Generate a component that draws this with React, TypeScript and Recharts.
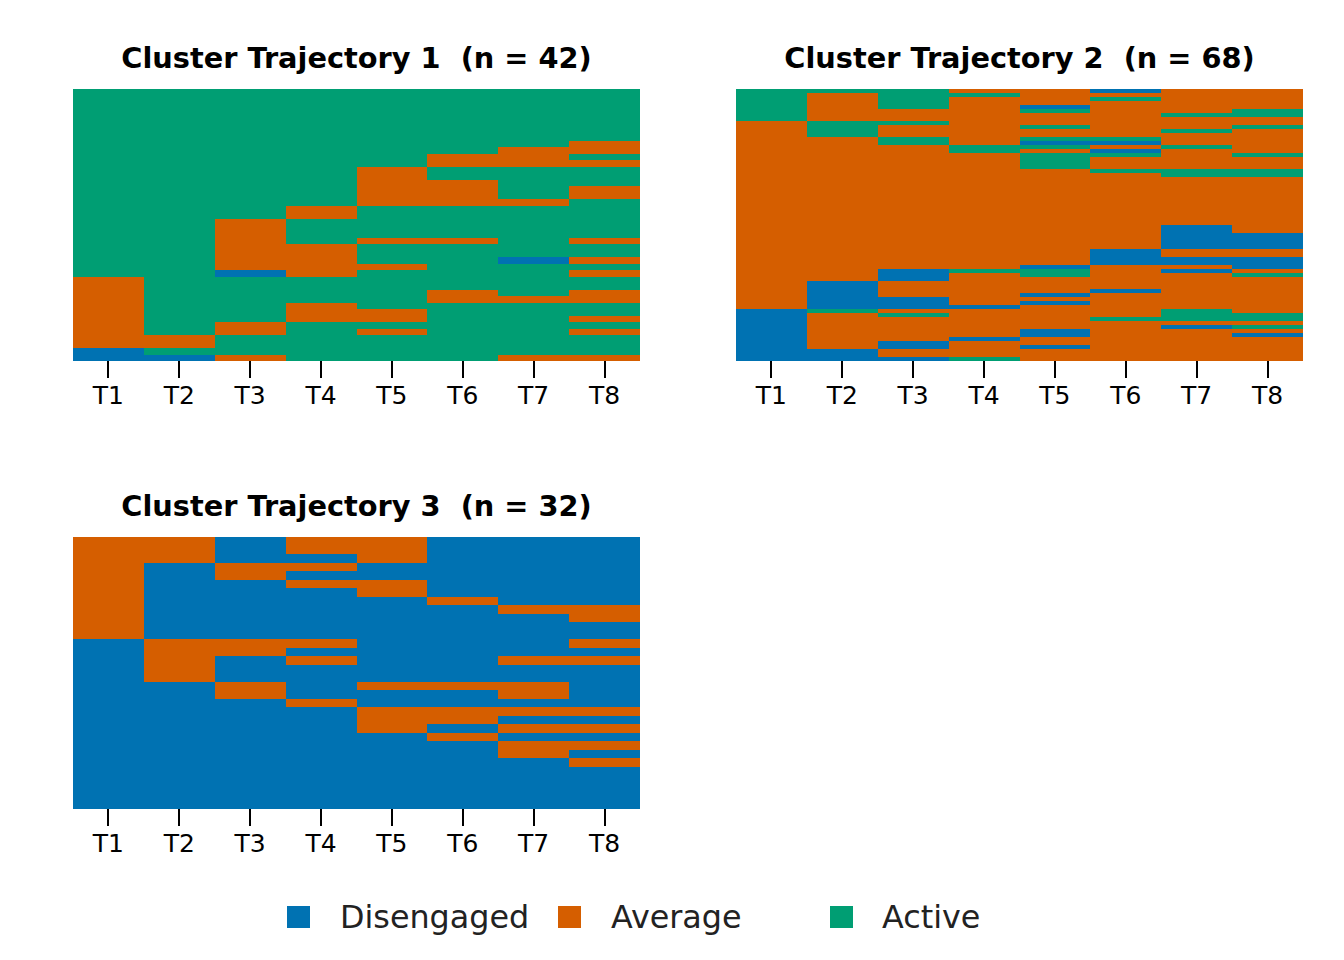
import React from 'react';
import { BarChart, Bar, XAxis, YAxis, Cell } from 'recharts';

const timeLabels = ['T1', 'T2', 'T3', 'T4', 'T5', 'T6', 'T7', 'T8'];
const stateCodes = ['D', 'M', 'A'];
const stateLabels = ['Disengaged', 'Average', 'Active'];
const stateColors = ['#0072B2', '#D55E00', '#009E73'];

// one string per sequence, top row first. D = Disengaged, M = Average, A = Active
const cluster1 = [
  'AAAAAAAA', 'AAAAAAAA', 'AAAAAAAA', 'AAAAAAAA', 'AAAAAAAA', 'AAAAAAAA', 'AAAAAAAA', 'AAAAAAAA',
  'AAAAAAAM', 'AAAAAAMM', 'AAAAAMMA', 'AAAAAMMM', 'AAAAMAAA', 'AAAAMAAA', 'AAAAMMAA', 'AAAAMMAM',
  'AAAAMMAM', 'AAAAMMMA', 'AAAMAAAA', 'AAAMAAAA', 'AAMAAAAA', 'AAMAAAAA', 'AAMAAAAA', 'AAMAMMAM',
  'AAMMAAAA', 'AAMMAAAA', 'AAMMAADM', 'AAMMMAAA', 'AADMAAAM', 'MAAAAAAA', 'MAAAAAAA', 'MAAAAMAM',
  'MAAAAMMM', 'MAAMAAAA', 'MAAMMAAA', 'MAAMMAAM', 'MAMAAAAA', 'MAMAMAAM', 'MMAAAAAA', 'MMAAAAAA',
  'DAAAAAAA', 'DDMAAAMM',
];

const cluster2 = [
  'AAAMMDMM', 'AMAAMMMM', 'AMAMMAMM', 'AMAMMMMM', 'AMAMDMMM', 'AMMMAMMA', 'AMMMMMAA', 'AMMMMMMM',
  'MAAMMMMM', 'MAMMAMMA', 'MAMMMMAM', 'MAMMMMMM', 'MMAMAAMM', 'MMAMDDMM', 'MMMAAMAM', 'MMMAMDMM',
  'MMMMAAMA', 'MMMMAMMM', 'MMMMAMMM', 'MMMMAMMM', 'MMMMMAAA', 'MMMMMMAA', 'MMMMMMMM', 'MMMMMMMM',
  'MMMMMMMM', 'MMMMMMMM', 'MMMMMMMM', 'MMMMMMMM', 'MMMMMMMM', 'MMMMMMMM', 'MMMMMMMM', 'MMMMMMMM',
  'MMMMMMMM', 'MMMMMMMM', 'MMMMMMDM', 'MMMMMMDM', 'MMMMMMDD', 'MMMMMMDD', 'MMMMMMDD', 'MMMMMMDD',
  'MMMMMDMM', 'MMMMMDMM', 'MMMMMDDD', 'MMMMMDDD', 'MMMMDMMD', 'MMDAAMDM', 'MMDMAMMA', 'MMDMMMMM',
  'MDMMMMMM', 'MDMMMMMM', 'MDMMMDMM', 'MDMMDMMM', 'MDDMMMMM', 'MDDMDMMM', 'MDDDMMMM', 'DAMMMMAM',
  'DMAMMMAA', 'DMMMMAAA', 'DMMMMMMM', 'DMMMMMDA', 'DMMMDMMM', 'DMMMDMMD', 'DMMDMMMM', 'DMDMMMMM',
  'DMDMDMMM', 'DDMMMMMM', 'DDMMMMMM', 'DDDAMMMM',
];

const cluster3 = [
  'MMDMMDDD', 'MMDMMDDD', 'MMDDMDDD', 'MDMMDDDD', 'MDMDDDDD', 'MDDMMDDD', 'MDDDMDDD', 'MDDDDMDD',
  'MDDDDDMM', 'MDDDDDDM', 'MDDDDDDD', 'MDDDDDDD', 'DMMMDDDM', 'DMMDDDDD', 'DMDMDDMM', 'DMDDDDDD',
  'DMDDDDDD', 'DDMDMMMD', 'DDMDDDMD', 'DDDMDDDD', 'DDDDMMMM', 'DDDDMMDD', 'DDDDMDMM', 'DDDDDMDD',
  'DDDDDDMM', 'DDDDDDMD', 'DDDDDDDM', 'DDDDDDDD', 'DDDDDDDD', 'DDDDDDDD', 'DDDDDDDD', 'DDDDDDDD',
];

const panelTitles = ['Cluster Trajectory 1  (n = 42)', 'Cluster Trajectory 2  (n = 68)', 'Cluster Trajectory 3  (n = 32)'];

const font = '"DejaVu Sans", Verdana, sans-serif';
const PW = 567;
const PH = 272;

function SeqPanel({ title, seqs, left, top }: { title: string; seqs: string[]; left: number; top: number }) {
  // bars stack upward, so the last row goes in first
  const rows = [...seqs].reverse();
  const data = timeLabels.map((t) => {
    const d: Record<string, any> = { t };
    rows.forEach((_, i) => { d['s' + i] = 1; });
    return d;
  });

  return (
    <>
      <div style={{ position: 'absolute', left, top: top - 48, width: PW, textAlign: 'center', fontFamily: font, fontWeight: 'bold', fontSize: 28.8, lineHeight: '34px', whiteSpace: 'pre', color: '#000' }}>
        {title}
      </div>
      <div style={{ position: 'absolute', left, top, shapeRendering: 'crispEdges' }}>
        <BarChart width={PW} height={PH + 60} data={data} margin={{ top: 0, right: 0, bottom: 0, left: 0 }} barCategoryGap={0}>
          <XAxis
            dataKey="t"
            height={60}
            interval={0}
            axisLine={false}
            tickSize={17}
            tickMargin={8}
            tickLine={{ stroke: '#000', strokeWidth: 2 }}
            tick={{ fill: '#000', fontSize: 25, fontFamily: font }}
          />
          <YAxis hide type="number" domain={[0, rows.length]} />
          {rows.map((seq, i) => (
            <Bar key={i} dataKey={'s' + i} stackId="seq" isAnimationActive={false}>
              {timeLabels.map((_, j) => (
                <Cell key={j} fill={stateColors[stateCodes.indexOf(seq[j])]} />
              ))}
            </Bar>
          ))}
        </BarChart>
      </div>
    </>
  );
}

export default function App() {
  const legendX = [287, 558, 830];
  const legendTextX = [340, 611, 882];
  return (
    <div style={{ position: 'absolute', left: 0, top: 0, width: 1344, height: 960, background: '#fff' }}>
      <SeqPanel title={panelTitles[0]} seqs={cluster1} left={73} top={89} />
      <SeqPanel title={panelTitles[1]} seqs={cluster2} left={736} top={89} />
      <SeqPanel title={panelTitles[2]} seqs={cluster3} left={73} top={537} />
      {stateLabels.map((label, i) => (
        <React.Fragment key={label}>
          <div style={{ position: 'absolute', left: legendX[i], top: 906, width: 23, height: 22, background: stateColors[i] }} />
          <div style={{ position: 'absolute', left: legendTextX[i], top: 897, fontFamily: font, fontSize: 31.8, lineHeight: '40px', color: '#222', whiteSpace: 'pre' }}>
            {label}
          </div>
        </React.Fragment>
      ))}
    </div>
  );
}
